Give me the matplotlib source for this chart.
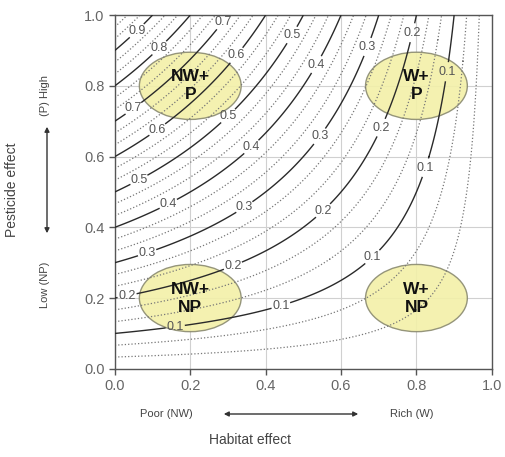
import numpy as np
import matplotlib.pyplot as plt
from matplotlib.patches import Ellipse

plt.rcParams['font.family'] = ['Liberation Sans', 'DejaVu Sans']

# contour levels of the surface (solid = labelled, dotted = in between)
solid_levels = [0.1, 0.2, 0.3, 0.4, 0.5, 0.6, 0.7, 0.8, 0.9]
dotted_levels = [0.0333, 0.0667, 0.1333, 0.1667, 0.2333, 0.2667, 0.3333, 0.3667,
                 0.4333, 0.4667, 0.5333, 0.5667, 0.6333, 0.6667, 0.7333, 0.7667,
                 0.8333, 0.8667, 0.9333, 0.9667]

# label spots
label_pos = [(0.05, 0.965), (0.12, 0.905), (0.30, 0.97), (0.04, 0.75),
             (0.33, 0.88), (0.11, 0.68), (0.46, 0.95), (0.305, 0.71), (0.066, 0.53),
             (0.535, 0.86), (0.36, 0.63), (0.14, 0.47),
             (0.67, 0.91), (0.54, 0.66), (0.345, 0.455), (0.085, 0.33),
             (0.79, 0.95), (0.71, 0.68), (0.55, 0.45), (0.31, 0.30), (0.03, 0.22),
             (0.88, 0.84), (0.82, 0.57), (0.68, 0.32), (0.44, 0.18), (0.16, 0.12)]

groups = ["NW+\nP", "W+\nP", "NW+\nNP", "W+\nNP"]
group_x = [0.2, 0.8, 0.2, 0.8]
group_y = [0.8, 0.8, 0.2, 0.2]

x = np.linspace(0, 1, 301)
y = np.linspace(0, 1, 301)
X, Y = np.meshgrid(x, y)
Z = Y * (1 - X)

fig = plt.figure(figsize=(5.06, 4.57), dpi=100)
ax = fig.add_axes([0.227, 0.193, 0.745, 0.774])

for gx, gy, g in zip(group_x, group_y, groups):
    ax.add_patch(Ellipse((gx, gy), 0.27, 0.19, facecolor='#f3f0a8',
                         edgecolor='#8a8a70', lw=1.0, alpha=0.9, zorder=1))

ax.contour(X, Y, Z, levels=dotted_levels, colors='#777777',
           linestyles=':', linewidths=0.9, zorder=2)
cs = ax.contour(X, Y, Z, levels=solid_levels, colors='#2a2a2a',
                linestyles='-', linewidths=1.0, zorder=3)
labels = ax.clabel(cs, fmt='%.1f', fontsize=9, inline=True, inline_spacing=1,
                   manual=label_pos, colors='#555555')
for t in labels:
    t.set_rotation(0)

for gx, gy, g in zip(group_x, group_y, groups):
    ax.text(gx, gy, g, ha='center', va='center', fontsize=12.5,
            fontweight='bold', color='#111111', linespacing=1.25, zorder=5)

ax.set_xlim(0, 1)
ax.set_ylim(0, 1)
ticks = [0.0, 0.2, 0.4, 0.6, 0.8, 1.0]
ax.set_xticks(ticks)
ax.set_yticks(ticks)
ax.set_xticklabels(['%.1f' % t for t in ticks])
ax.set_yticklabels(['%.1f' % t for t in ticks])
ax.tick_params(labelsize=10.5, colors='#555555', length=4, width=1)
ax.tick_params(labelcolor='#666666')
ax.grid(True, color='#d0d0d0', lw=0.8, zorder=0)
ax.set_axisbelow(True)
for s in ax.spines.values():
    s.set_color('#555555')
    s.set_linewidth(1.0)

# axis annotations
fig.text(12 / 506, 1 - 190 / 457, 'Pesticide effect', rotation=90,
         ha='center', va='center', fontsize=10, color='#444444')
fig.text(45 / 506, 1 - 95 / 457, '(P) High', rotation=90,
         ha='center', va='center', fontsize=8, color='#444444')
fig.text(45 / 506, 1 - 285 / 457, 'Low (NP)', rotation=90,
         ha='center', va='center', fontsize=8, color='#444444')
fig.add_artist(plt.Annotation('', xy=(47 / 506, 1 - 236 / 457), xytext=(47 / 506, 1 - 124 / 457),
                              xycoords='figure fraction', textcoords='figure fraction',
                              arrowprops=dict(arrowstyle='<|-|>', color='#333333', lw=1,
                                              mutation_scale=7)))

fig.text(166 / 506, 1 - 414 / 457, 'Poor (NW)', ha='center', va='center',
         fontsize=8, color='#444444')
fig.text(412 / 506, 1 - 414 / 457, 'Rich (W)', ha='center', va='center',
         fontsize=8, color='#444444')
fig.add_artist(plt.Annotation('', xy=(361 / 506, 1 - 414 / 457), xytext=(221 / 506, 1 - 414 / 457),
                              xycoords='figure fraction', textcoords='figure fraction',
                              arrowprops=dict(arrowstyle='<|-|>', color='#333333', lw=1,
                                              mutation_scale=7)))
fig.text(250 / 506, 1 - 440 / 457, 'Habitat effect', ha='center', va='center',
         fontsize=10, color='#444444')

fig.savefig('out.png', dpi=100)
